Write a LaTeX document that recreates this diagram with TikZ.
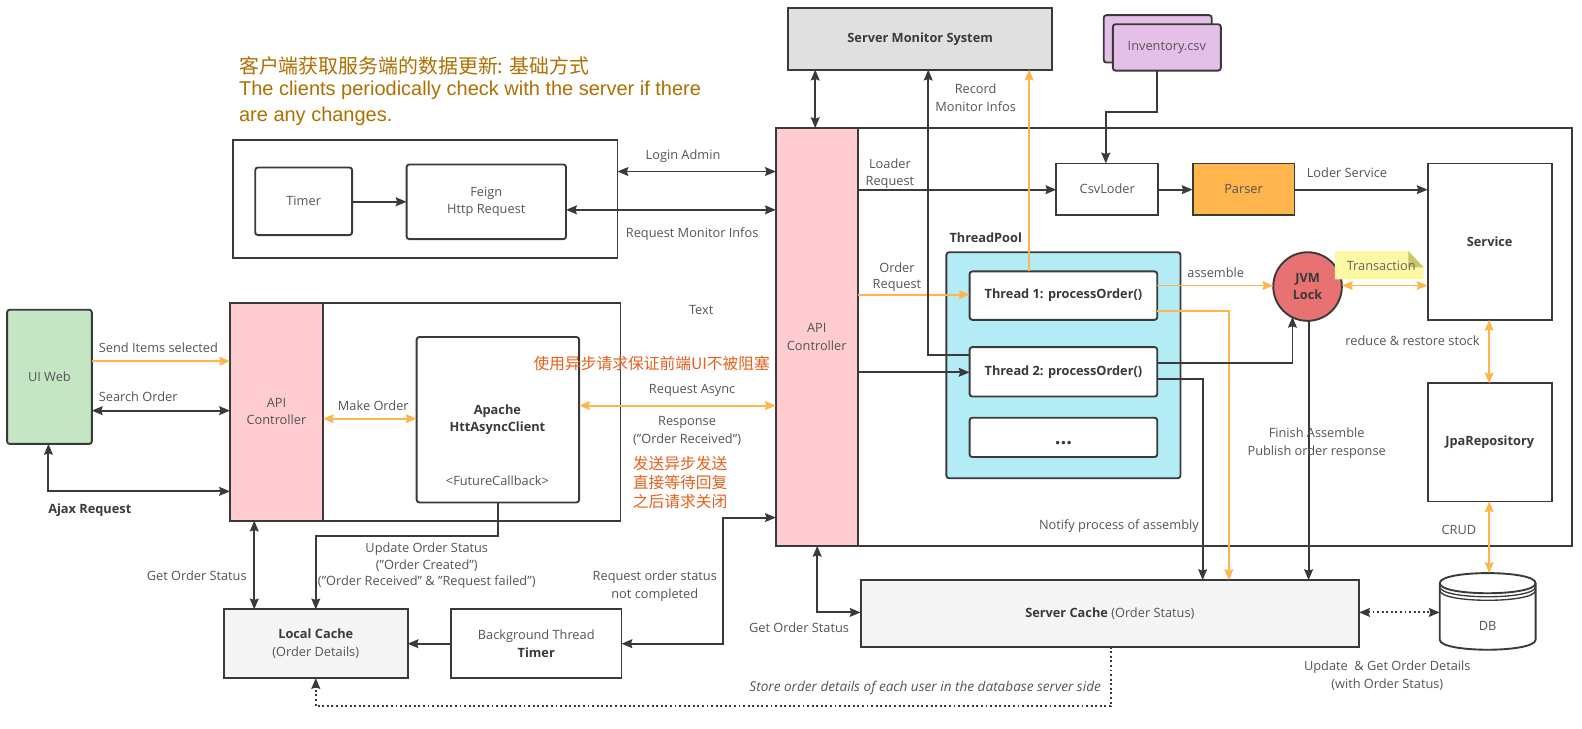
\documentclass[tikz,border=0pt]{standalone}
\usepackage{fontspec}
\setmainfont{Open Sans}
\newfontfamily\cjk{Noto Sans CJK SC}
\newfontfamily\helv{Liberation Sans}
\usetikzlibrary{arrows.meta,calc}
\definecolor{dk}{HTML}{3A3A3A}
\definecolor{txt}{HTML}{555555}
\definecolor{org}{HTML}{FFB54D}
\definecolor{pinkb}{HTML}{FFCCD2}
\definecolor{redt}{HTML}{E8601C}
\definecolor{brownt}{HTML}{B06F00}
\definecolor{csvp}{HTML}{E4BFE8}
\definecolor{uig}{HTML}{C5E6C5}
\definecolor{poolb}{HTML}{B3ECF4}
\definecolor{jvmr}{HTML}{E87272}
\definecolor{noty}{HTML}{FCF8A5}
\definecolor{notf}{HTML}{C8C869}
\tikzset{
 x=0.75pt,y=-0.75pt,
 box/.style={draw=dk,line width=1.4pt,inner sep=0pt,outer sep=0pt,align=center,text=txt,font=\fontsize{9.5}{13}\selectfont},
 rbox/.style={box,rounded corners=2pt},
 bt/.style={font=\fontsize{9.5}{13}\selectfont\bfseries,text=dk},
 lbl/.style={inner sep=0pt,outer sep=0pt,align=center,text=txt,font=\fontsize{9.5}{13.5}\selectfont},
 lbltight/.style={lbl,font=\fontsize{9.5}{12.2}\selectfont},
 cn/.style={inner sep=0pt,outer sep=0pt,align=center,text=redt,font=\cjk\fontsize{11.7}{14}\selectfont},
 top/.style={anchor=west,inner sep=0pt,outer sep=0pt,text=brownt},
 dd/.style={draw=dk,line width=1.4pt,-{Stealth[length=8pt,width=6.5pt,inset=1pt]}},
 bb/.style={dd,{Stealth[length=8pt,width=6.5pt,inset=1pt]}-{Stealth[length=8pt,width=6.5pt,inset=1pt]}},
 oo/.style={draw=org,line width=1.4pt,-{Stealth[length=8pt,width=6.5pt,inset=1pt]}},
 ob/.style={oo,{Stealth[length=8pt,width=6.5pt,inset=1pt]}-{Stealth[length=8pt,width=6.5pt,inset=1pt]}},
 dotl/.style={dd,dotted},
 dbline/.style={draw=dk,line width=1.4pt},
}
% a node given by its corners, in picture pixels
\def\bn[#1](#2)(#3,#4)(#5,#6)#7{%
  \pgfmathsetmacro\bncx{(#3+#5)/2}%
  \pgfmathsetmacro\bncy{(#4+#6)/2}%
  \pgfmathsetmacro\bnw{(#5-#3)*0.75}%
  \pgfmathsetmacro\bnh{(#6-#4)*0.75}%
  \node[#1,minimum width=\bnw pt,minimum height=\bnh pt] (#2) at (\bncx,\bncy) {#7};}
\begin{document}
\begin{tikzpicture}
\useasboundingbox[fill=white] (0,0) rectangle (1568,721.6);
% containers
\bn[box](clientbox)(231,139)(612,256){}
\bn[box](leftbox)(228,300)(615,516){}
\bn[box](serverbox)(769,127)(1558,541){}
% top
\bn[box,fill=black!12,bt](monitor)(781,8)(1043,69){Server Monitor System}
\bn[rbox,fill=csvp](invb)(1094,15)(1201,62){}
\bn[rbox,fill=csvp](inv)(1103,24)(1210,70){Inventory.csv}
\node[top,font=\cjk\fontsize{14.8}{18}\selectfont] (t1) at (237,65) {客户端获取服务端的数据更新: 基础方式};
\node[top,font=\helv\fontsize{14.85}{18}\selectfont] (t2) at (237,90) {The clients periodically check with the server if there};
\node[top,font=\helv\fontsize{14.85}{18}\selectfont] (t3) at (237,115) {are any changes.};
% client
\bn[rbox](timer)(253,166)(349,233){Timer}
\bn[rbox](feign)(403,163)(561,237){Feign\\Http Request}
% left
\bn[rbox,fill=uig](ui)(7,307)(91,440){UI Web}
\bn[box,fill=pinkb](apil)(228,300)(320,516){API\\Controller}
\bn[rbox](apache)(413,334)(574,498){}
\node[bt,inner sep=0pt,align=center] (apachet) at (493,416) {Apache\\HttAsyncClient};
\node[lbl] (fc) at (493,476) {<FutureCallback>};
\bn[box,fill=black!4](local)(222,604)(404,672){\textbf{\textcolor{dk}{Local Cache}}\\(Order Details)}
\bn[box](bg)(447,604)(616,672){Background Thread\\\textbf{\textcolor{dk}{Timer}}}
% server
\bn[box,fill=pinkb](apis)(769,127)(850,541){API\\Controller}
\bn[box](csv)(1047,162)(1148,213){CsvLoder}
\bn[box,fill=org](parser)(1182,162)(1283,213){Parser}
\bn[box,bt](service)(1415,162)(1538,317){Service}
\bn[box,bt](jpa)(1415,380)(1538,497){JpaRepository}
\bn[rbox,fill=poolb](pool)(938,250)(1170,474){}
\node[bt,inner sep=0pt] (poolt) at (977,236) {ThreadPool};
\bn[rbox,fill=white,bt](th1)(961,269)(1147,317){Thread 1: processOrder()}
\bn[rbox,fill=white,bt](th2)(961,344)(1147,393){Thread 2: processOrder()}
\bn[rbox,fill=white,bt,font=\fontsize{15}{15}\selectfont\bfseries](th3)(961,414)(1147,453){\smash{\raisebox{-5.5pt}{...}}}
\node[circle,draw=dk,line width=1.4pt,fill=jvmr,minimum size=51pt,inner sep=0pt,outer sep=0pt,align=center,bt] (jvm) at (1296,284) {JVM\\Lock};
% note
\fill[noty] (1323,249) -- (1396,249) -- (1411,265) -- (1411,277) -- (1323,277) -- cycle;
\fill[notf] (1396,249) -- (1396,265) -- (1411,265) -- cycle;
\node[lbl,text=black!60] (note) at (1369,264) {Transaction};
% caches
\bn[box,fill=black!4](scache)(853,575)(1347,641){\textbf{\textcolor{dk}{Server Cache}} (Order Status)}
\draw[dbline,fill=white] (1427,578) .. controls (1427,564.7) and (1522,564.7) .. (1522,578) -- (1522,634) .. controls (1522,647.3) and (1427,647.3) .. (1427,634) -- cycle;
\draw[dbline] (1427,578) .. controls (1427,591.3) and (1522,591.3) .. (1522,578);
\draw[dbline,line width=1pt] (1427,581.5) .. controls (1427,594.8) and (1522,594.8) .. (1522,581.5);
\draw[dbline,line width=1pt] (1427,585) .. controls (1427,598.3) and (1522,598.3) .. (1522,585);
\bn[lbl](db)(1427,595)(1522,645){DB}
% connectors
\draw[bb] (monitor.south -| 808,0) -- (apis.north -| 808,0);
\draw[dd] (inv.south -| 1147,0) -- (1147,111) -- (1096,111) -- (csv.north -| 1096,0);
\draw[bb] (clientbox.east |- 0,170) -- (apis.west |- 0,170);
\draw[dd] (timer.east |- 0,200) -- (feign.west |- 0,200);
\draw[bb] (feign.east |- 0,208) -- (apis.west |- 0,208);
\draw[dd] (apis.east |- 0,188) -- (csv.west |- 0,188);
\draw[dd] (csv.east |- 0,188) -- (parser.west |- 0,188);
\draw[dd] (parser.east |- 0,188) -- (service.west |- 0,188);
\draw[oo] (apis.east |- 0,292) -- (th1.west |- 0,292);
\draw[dd] (apis.east |- 0,369) -- (th2.west |- 0,369);
\draw[oo] (th1.north -| 1020,0) -- (monitor.south -| 1020,0);
\draw[dd] (th2.west |- 0,352) -- (920,352) -- (monitor.south -| 920,0);
\draw[oo] (th1.east |- 0,283) -- (jvm.west |- 0,283);
\draw[oo] (th1.east |- 0,308) -- (1218,308) -- (scache.north -| 1218,0);
\draw[dd] (th2.east |- 0,360) -- (1281,360) -- (1281,314);
\draw[dd] (th2.east |- 0,376) -- (1192,376) -- (scache.north -| 1192,0);
\draw[dd] (1297,318) -- (scache.north -| 1297,0);
\draw[ob] (jvm.east |- 0,283) -- (service.west |- 0,283);
\draw[ob] (service.south -| 1476,0) -- (jpa.north -| 1476,0);
\draw[ob] (jpa.south -| 1476,0) -- (1476,568);
\draw[bb,dotted] (scache.east |- 0,607) -- (db.west |- 0,607);
\draw[dotl] (scache.south -| 1101,0) -- (1101,700) -- (313,700) -- (local.south);
\draw[bb] (apis.south -| 810,0) -- (810,607) -- (scache.west |- 0,607);
\draw[bb] (bg.east |- 0,638) -- (717,638) -- (717,513) -- (apis.west |- 0,513);
\draw[dd] (bg.west |- 0,638) -- (local.east |- 0,638);
\draw[dd] (apache.south -| 494,0) -- (494,531) -- (313,531) -- (local.north);
\draw[bb] (apil.south -| 252,0) -- (local.north -| 252,0);
\draw[oo] (ui.east |- 0,358) -- (apil.west |- 0,358);
\draw[bb] (ui.east |- 0,407) -- (apil.west |- 0,407);
\draw[bb] (ui.south -| 48,0) -- (48,487) -- (apil.west |- 0,487);
\draw[ob] (apil.east |- 0,415) -- (apache.west |- 0,415);
\draw[ob] (apache.east |- 0,402) -- (apis.west |- 0,402);
% labels
\node[lbl] (l1) at (677,155) {Login Admin};
\node[lbl] (l2) at (686,232) {Request Monitor Infos};
\node[lbltight] (l3) at (882,172) {Loader\\Request};
\node[lbltight] (l4) at (889,275) {Order\\Request};
\node[lbl] (l5) at (967,97) {Record\\Monitor Infos};
\node[lbl] (l6) at (1335,171) {Loder Service};
\node[lbl] (l7) at (1205,270) {assemble};
\node[lbl] (l8) at (1400,338) {reduce \& restore stock};
\node[lbl] (l9) at (1305,439) {Finish Assemble\\Publish order response};
\node[lbl] (l10) at (1109,521) {Notify process of assembly};
\node[lbl] (l11) at (1446,525) {CRUD};
\node[lbl] (l12) at (1375,669.5) {Update\ \ \& Get Order Details\\(with Order Status)};
\node[lbl,font=\fontsize{10.1}{13.5}\selectfont\itshape] (l13) at (917,681.5) {Store order details of each user in the database server side};
\node[lbl] (l14) at (792,622) {Get Order Status};
\node[lbl] (l15) at (649,581) {Request order status\\not completed};
\node[lbl] (l16) at (195,571) {Get Order Status};
\node[lbltight] (l17) at (423,561) {Update Order Status\\("Order Created")\\("Order Received" \& "Request failed")};
\node[bt,inner sep=0pt] (l18) at (89,506) {Ajax Request};
\node[lbl] (l19) at (157,345) {Send Items selected};
\node[lbl] (l20) at (137,393) {Search Order};
\node[lbl] (l21) at (370,402) {Make Order};
\node[lbl] (l22) at (695,307) {Text};
\node[cn] (l23) at (646,360) {使用异步请求保证前端UI不被阻塞};
\node[lbl] (l24) at (686,387) {Request Async};
\node[lbl] (l25) at (681,427.5) {Response\\("Order Received")};
\node[cn] (l26) at (674,478) {发送异步发送\\直接等待回复\\之后请求关闭};
\end{tikzpicture}
\end{document}
